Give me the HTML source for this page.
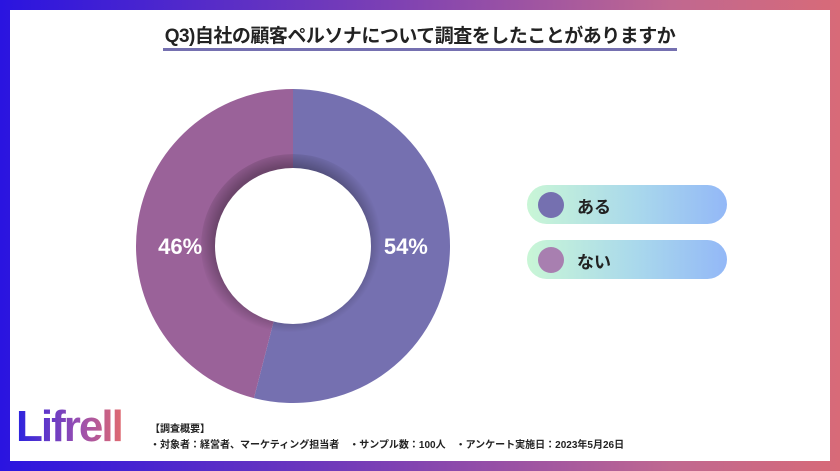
<!DOCTYPE html>
<html><head><meta charset="utf-8"><style>
body{margin:0;width:840px;height:471px;overflow:hidden;font-family:"Liberation Sans","Noto Sans CJK JP",sans-serif}
#frame{position:absolute;left:0;top:0;width:840px;height:471px;background:linear-gradient(90deg,#2a14e0,#7a3fb5 45%,#c06890 80%,#d86a78)}
#panel{position:absolute;left:10px;top:10px;width:820px;height:451px;background:#fff}
#title{position:absolute;left:163px;top:21px;width:514px;text-align:center;font-size:19px;font-weight:bold;color:#222;letter-spacing:-0.5px}
#uline{position:absolute;left:163px;top:48px;width:514px;height:3px;background:#7570b0}
.pill{position:absolute;left:527px;width:200px;height:39px;border-radius:20px;background:linear-gradient(90deg,#c9f6d6,#a9d8ec 55%,#93b8f7)}
.dot{position:absolute;left:11px;top:7px;width:26px;height:26px;border-radius:50%}
.lbl{position:absolute;left:50px;top:8px;font-size:17px;font-weight:bold;color:#222}
#logo{position:absolute;left:16px;top:402px;font-size:44px;font-weight:bold;letter-spacing:-2px;background:linear-gradient(90deg,#2a22e0,#9a4fb0 60%,#e06a70);-webkit-background-clip:text;background-clip:text;color:transparent}
.foot{position:absolute;left:150px;font-size:10px;font-weight:bold;color:#222}
</style></head><body>
<div id="frame"></div>
<div id="panel"></div>
<div id="title">Q3)自社の顧客ペルソナについて調査をしたことがありますか</div>
<div id="uline"></div>
<svg id="chart" width="840" height="471" style="position:absolute;left:0;top:0">
<defs><radialGradient id="sh" cx="0.48" cy="0.47"><stop offset="0.8" stop-color="#000" stop-opacity="0.3"/><stop offset="1" stop-color="#000" stop-opacity="0"/></radialGradient></defs>
<g id="slices"></g>
<circle cx="293" cy="246" r="92" fill="url(#sh)"/>
<circle cx="293" cy="246" r="78" fill="#fff"/>
<g id="labels"></g>
</svg>
<div class="pill" style="top:185px"><div class="dot" style="background:#7570b0"></div><div class="lbl">ある</div></div>
<div class="pill" style="top:240px"><div class="dot" style="background:#a87fb0"></div><div class="lbl">ない</div></div>
<div id="logo">Lifrell</div>
<div class="foot" style="top:420px">【調査概要】</div>
<div class="foot" style="top:436px">・対象者：経営者、マーケティング担当者　・サンプル数：100人　・アンケート実施日：2023年5月26日</div>
<script>
const categories=["ある","ない"];
const values=[54,46];
const colors=["#7570b0","#9a6299"];
const cx=293,cy=246,R=157,lr=114;
const ns="http://www.w3.org/2000/svg";
const total=values.reduce((a,b)=>a+b,0);
let a0=0;
values.forEach((v,i)=>{
  const a1=a0+v/total*2*Math.PI;
  const p=a=>[cx+R*Math.sin(a),cy-R*Math.cos(a)];
  const [x0,y0]=p(a0),[x1,y1]=p(a1);
  const path=document.createElementNS(ns,"path");
  path.setAttribute("d",`M${cx},${cy}L${x0},${y0}A${R},${R} 0 ${a1-a0>Math.PI?1:0} 1 ${x1},${y1}Z`);
  path.setAttribute("fill",colors[i]);
  
  
  document.getElementById("slices").appendChild(path);
  const am=(a0+a1)/2;
  const t=document.createElementNS(ns,"text");
  t.setAttribute("x",cx+(Math.sin(am)>=0?lr:-lr)*(1-0.08*Math.abs(Math.cos(am))));
  t.setAttribute("y",cy+8);
  t.setAttribute("text-anchor","middle");t.setAttribute("fill","#fff");
  t.setAttribute("font-size","22");t.setAttribute("font-weight","bold");
  t.textContent=v+"%";
  
  
  document.getElementById("labels").appendChild(t);
  a0=a1;
});
</script>
</body></html>
